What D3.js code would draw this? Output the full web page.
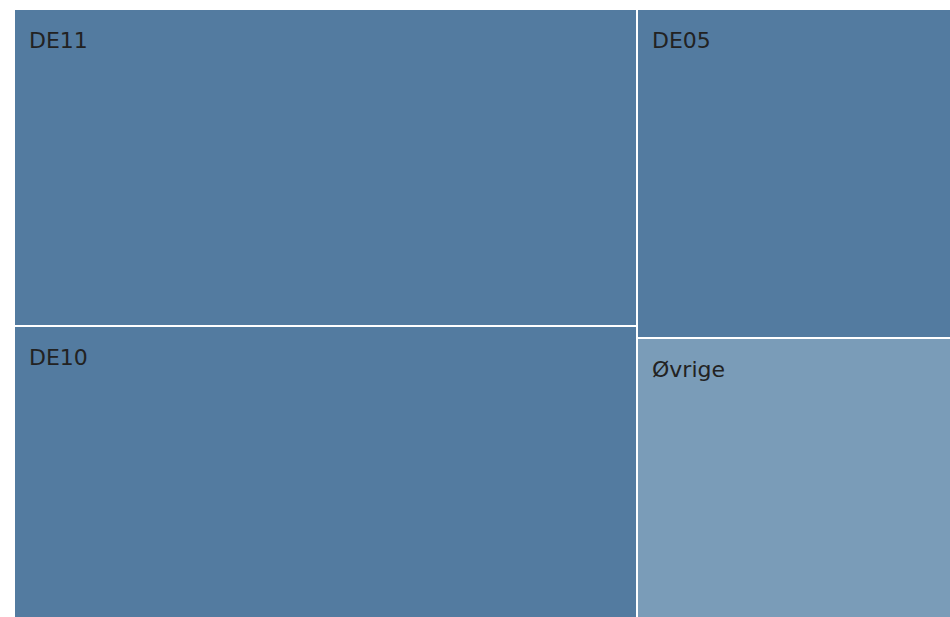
<!DOCTYPE html>
<html>
<head>
<meta charset="utf-8">
<script src="https://cdn.jsdelivr.net/npm/d3@7"></script>
<style>
  html, body { margin: 0; padding: 0; background: #fff; overflow: hidden; }
  svg { display: block; }
  .cell-label { font-family: "DejaVu Sans", Verdana, sans-serif; font-size: 22px; fill: #222; }
</style>
</head>
<body>
<div id="chart"></div>
<script>
// DATA
var regions = ['DE11', 'DE10', 'DE05', 'Øvrige'];
var shares = [33.0, 32.8, 17.8, 16.4];
var fills = ['#537ba0', '#537ba0', '#537ba0', '#7a9cb8'];

var stage = { width: 950, height: 617 };
// plot area runs past the window edges (the picture is cropped)
var area = { x0: 15, y0: 10, x1: 960, y1: 640 };

var svg = d3.select('#chart')
    .append('svg')
    .attr('width', stage.width)
    .attr('height', stage.height);

var root = d3.hierarchy({
        children: regions.map(function(name, i) {
            return { name: name, value: shares[i], fill: fills[i] };
        })
    })
    .sum(function(d) { return d.value || 0; })
    .sort(function(a, b) { return b.value - a.value; });

d3.treemap()
    .tile(d3.treemapSquarify.ratio(1))
    .size([area.x1 - area.x0, area.y1 - area.y0])
    .paddingInner(2)
    .round(true)(root);

var cells = svg.append('g')
    .attr('transform', 'translate(' + area.x0 + ',' + area.y0 + ')')
    .selectAll('g').data(root.leaves()).enter()
    .append('g')
    .attr('transform', function(d) { return 'translate(' + d.x0 + ',' + d.y0 + ')'; });

cells.append('rect')
    .attr('width', function(d) { return d.x1 - d.x0; })
    .attr('height', function(d) { return d.y1 - d.y0; })
    .attr('fill', function(d) { return d.data.fill; });

cells.append('text')
    .attr('class', 'cell-label')
    .attr('x', 14)
    .attr('y', 38)
    .text(function(d) { return d.data.name; });
</script>
</body>
</html>
